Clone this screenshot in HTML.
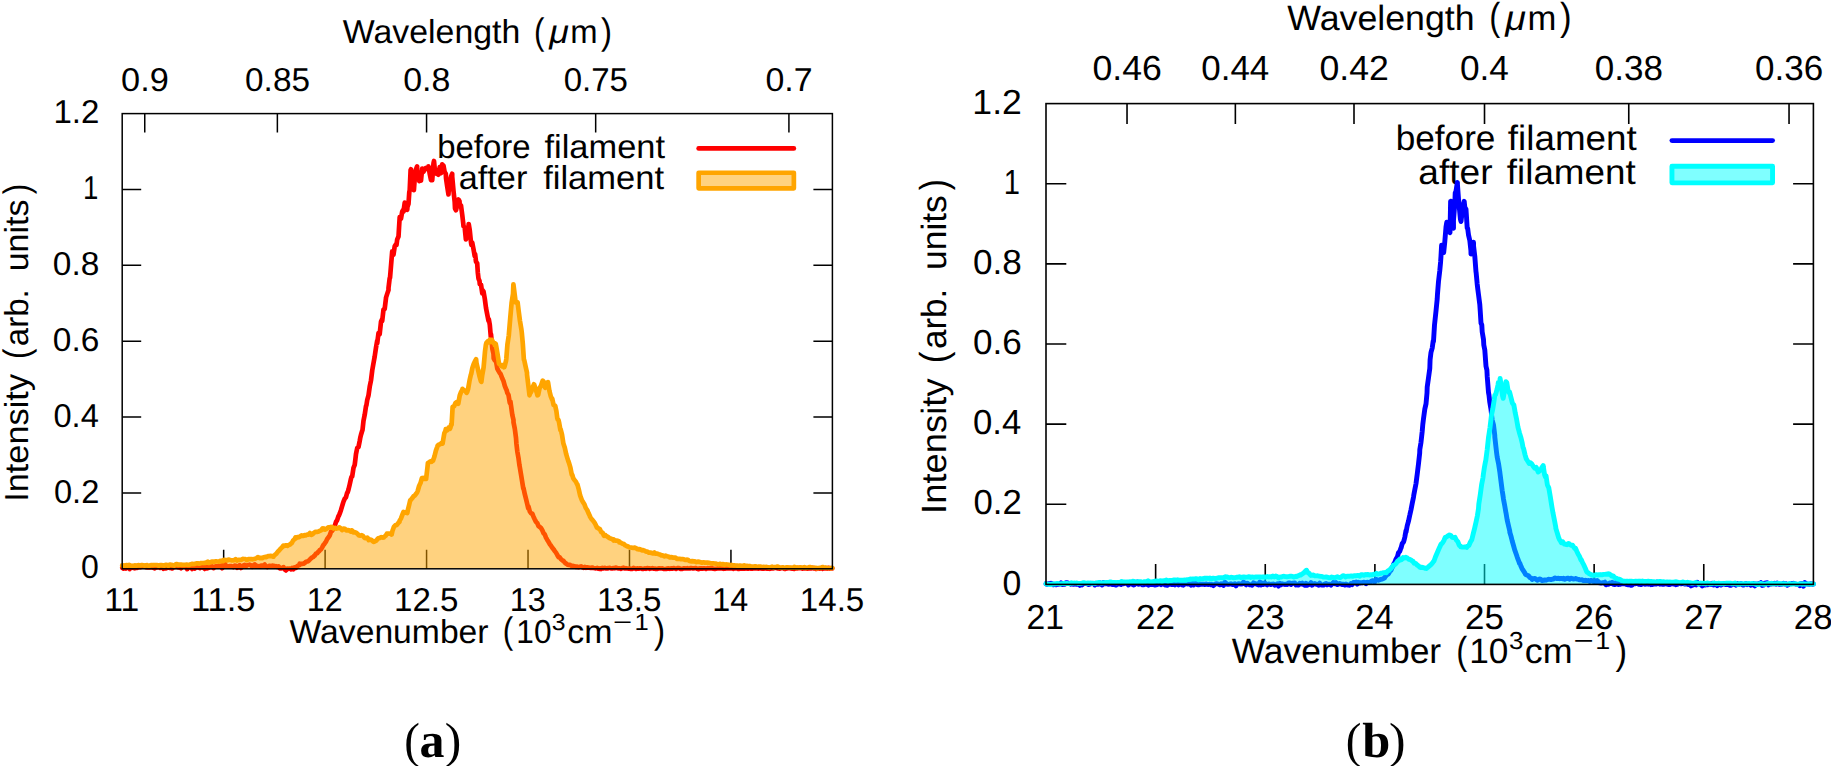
<!DOCTYPE html>
<html lang="en">
<head>
<meta charset="utf-8">
<title>Spectra before and after filament</title>
<style>
html,body{margin:0;padding:0;background:#fff;}
body{width:1831px;height:766px;overflow:hidden;}
svg{display:block;font-family:'Liberation Sans', sans-serif;fill:#000;}
</style>
</head>
<body>
<svg width="1831" height="766" viewBox="0 0 1831 766">
<rect width="1831" height="766" fill="#fff"/>
<g id="labels" text-rendering="geometricPrecision">
<text><tspan x="342.80" y="42.90" font-size="33.20" textLength="177.50" lengthAdjust="spacingAndGlyphs">Wavelength</tspan> <tspan x="534.03" y="43.60" font-size="36.85" textLength="10.42" lengthAdjust="spacingAndGlyphs">(</tspan><tspan x="549.32" y="42.90" font-size="33.20" font-style="italic" textLength="19.62" lengthAdjust="spacingAndGlyphs">μ</tspan><tspan x="570.15" y="42.90" font-size="33.20" textLength="27.35" lengthAdjust="spacingAndGlyphs">m</tspan><tspan x="600.90" y="43.60" font-size="36.85" textLength="11.01" lengthAdjust="spacingAndGlyphs">)</tspan></text>
<text x="121.07" y="91.30" font-size="33.00" textLength="47.66" lengthAdjust="spacingAndGlyphs">0.9</text>
<text x="245.08" y="91.30" font-size="33.00" textLength="64.89" lengthAdjust="spacingAndGlyphs">0.85</text>
<text x="403.16" y="91.30" font-size="33.00" textLength="47.13" lengthAdjust="spacingAndGlyphs">0.8</text>
<text x="563.68" y="91.30" font-size="33.00" textLength="64.27" lengthAdjust="spacingAndGlyphs">0.75</text>
<text x="765.51" y="91.30" font-size="33.00" textLength="47.13" lengthAdjust="spacingAndGlyphs">0.7</text>
<text x="53.44" y="123.20" font-size="33.00" textLength="45.90" lengthAdjust="spacingAndGlyphs">1.2</text>
<text x="82.98" y="199.07" font-size="33.00" textLength="15.34" lengthAdjust="spacingAndGlyphs">1</text>
<text x="52.85" y="274.93" font-size="33.00" textLength="46.50" lengthAdjust="spacingAndGlyphs">0.8</text>
<text x="52.85" y="350.80" font-size="33.00" textLength="46.50" lengthAdjust="spacingAndGlyphs">0.6</text>
<text x="53.48" y="426.67" font-size="33.00" textLength="45.33" lengthAdjust="spacingAndGlyphs">0.4</text>
<text x="53.98" y="502.53" font-size="33.00" textLength="45.34" lengthAdjust="spacingAndGlyphs">0.2</text>
<text x="81.00" y="578.40" font-size="33.00" textLength="17.80" lengthAdjust="spacingAndGlyphs">0</text>
<text x="104.34" y="610.60" font-size="33.00" textLength="34.97" lengthAdjust="spacingAndGlyphs">11</text>
<text x="191.00" y="610.60" font-size="33.00" textLength="64.55" lengthAdjust="spacingAndGlyphs">11.5</text>
<text x="306.85" y="610.60" font-size="33.00" textLength="35.82" lengthAdjust="spacingAndGlyphs">12</text>
<text x="394.00" y="610.60" font-size="33.00" textLength="64.41" lengthAdjust="spacingAndGlyphs">12.5</text>
<text x="509.77" y="610.60" font-size="33.00" textLength="35.82" lengthAdjust="spacingAndGlyphs">13</text>
<text x="596.92" y="610.60" font-size="33.00" textLength="64.41" lengthAdjust="spacingAndGlyphs">13.5</text>
<text x="712.37" y="610.60" font-size="33.00" textLength="35.92" lengthAdjust="spacingAndGlyphs">14</text>
<text x="799.83" y="610.60" font-size="33.00" textLength="64.41" lengthAdjust="spacingAndGlyphs">14.5</text>
<text><tspan x="289.60" y="642.70" font-size="33.20" textLength="198.96" lengthAdjust="spacingAndGlyphs">Wavenumber</tspan> <tspan x="502.73" y="643.40" font-size="36.85" textLength="10.42" lengthAdjust="spacingAndGlyphs">(</tspan><tspan x="516.32" y="642.70" font-size="33.20" textLength="35.16" lengthAdjust="spacingAndGlyphs">10</tspan><tspan x="551.83" y="629.80" font-size="23.24" textLength="13.78" lengthAdjust="spacingAndGlyphs">3</tspan><tspan x="567.34" y="642.70" font-size="33.20" textLength="45.11" lengthAdjust="spacingAndGlyphs">cm</tspan><tspan x="613.06" y="629.80" font-size="23.24" textLength="19.15" lengthAdjust="spacingAndGlyphs">−</tspan><tspan x="634.40" y="629.80" font-size="23.24" textLength="14.24" lengthAdjust="spacingAndGlyphs">1</tspan><tspan x="654.00" y="643.40" font-size="36.85" textLength="11.13" lengthAdjust="spacingAndGlyphs">)</tspan></text>
<text transform="translate(27.80,0) rotate(-90)"><tspan x="-501.88" y="0.00" font-size="33.20" textLength="127.98" lengthAdjust="spacingAndGlyphs">Intensity</tspan> <tspan x="-359.07" y="0.70" font-size="36.85" textLength="10.42" lengthAdjust="spacingAndGlyphs">(</tspan><tspan x="-346.13" y="0.00" font-size="33.20" textLength="56.92" lengthAdjust="spacingAndGlyphs">arb.</tspan> <tspan x="-271.32" y="0.00" font-size="33.20" textLength="71.79" lengthAdjust="spacingAndGlyphs">units</tspan><tspan x="-194.20" y="0.70" font-size="36.85" textLength="10.42" lengthAdjust="spacingAndGlyphs">)</tspan></text>
<text><tspan x="437.14" y="157.60" font-size="33.20" textLength="93.39" lengthAdjust="spacingAndGlyphs">before</tspan> <tspan x="544.50" y="157.60" font-size="33.20" textLength="120.48" lengthAdjust="spacingAndGlyphs">filament</tspan></text>
<text><tspan x="458.73" y="189.30" font-size="33.20" textLength="68.64" lengthAdjust="spacingAndGlyphs">after</tspan> <tspan x="543.20" y="189.30" font-size="33.20" textLength="120.88" lengthAdjust="spacingAndGlyphs">filament</tspan></text>
<text><tspan x="404.33" y="757.30" font-size="49.50" font-family='"Liberation Serif", serif' textLength="15.63" lengthAdjust="spacingAndGlyphs">(</tspan><tspan x="419.64" y="757.30" font-size="49.50" font-family='"Liberation Serif", serif' font-weight="bold" textLength="24.96" lengthAdjust="spacingAndGlyphs">a</tspan><tspan x="444.65" y="757.30" font-size="49.50" font-family='"Liberation Serif", serif' textLength="16.55" lengthAdjust="spacingAndGlyphs">)</tspan></text>
<text><tspan x="1287.30" y="29.60" font-size="35.10" textLength="187.31" lengthAdjust="spacingAndGlyphs">Wavelength</tspan> <tspan x="1489.25" y="30.30" font-size="38.96" textLength="11.01" lengthAdjust="spacingAndGlyphs">(</tspan><tspan x="1505.38" y="29.60" font-size="35.10" font-style="italic" textLength="20.66" lengthAdjust="spacingAndGlyphs">μ</tspan><tspan x="1527.43" y="29.60" font-size="35.10" textLength="28.86" lengthAdjust="spacingAndGlyphs">m</tspan><tspan x="1559.90" y="30.30" font-size="38.96" textLength="11.60" lengthAdjust="spacingAndGlyphs">)</tspan></text>
<text x="1092.52" y="80.40" font-size="34.90" textLength="69.36" lengthAdjust="spacingAndGlyphs">0.46</text>
<text x="1201.22" y="80.40" font-size="34.90" textLength="68.06" lengthAdjust="spacingAndGlyphs">0.44</text>
<text x="1319.49" y="80.40" font-size="34.90" textLength="69.36" lengthAdjust="spacingAndGlyphs">0.42</text>
<text x="1459.91" y="80.40" font-size="34.90" textLength="48.98" lengthAdjust="spacingAndGlyphs">0.4</text>
<text x="1594.82" y="80.40" font-size="34.90" textLength="68.22" lengthAdjust="spacingAndGlyphs">0.38</text>
<text x="1755.09" y="80.40" font-size="34.90" textLength="68.22" lengthAdjust="spacingAndGlyphs">0.36</text>
<text x="972.38" y="113.80" font-size="34.90" textLength="49.47" lengthAdjust="spacingAndGlyphs">1.2</text>
<text x="1003.78" y="193.93" font-size="34.90" textLength="16.20" lengthAdjust="spacingAndGlyphs">1</text>
<text x="973.00" y="274.07" font-size="34.90" textLength="48.82" lengthAdjust="spacingAndGlyphs">0.8</text>
<text x="973.00" y="354.20" font-size="34.90" textLength="48.82" lengthAdjust="spacingAndGlyphs">0.6</text>
<text x="973.02" y="434.33" font-size="34.90" textLength="48.25" lengthAdjust="spacingAndGlyphs">0.4</text>
<text x="973.51" y="514.47" font-size="34.90" textLength="48.29" lengthAdjust="spacingAndGlyphs">0.2</text>
<text x="1002.44" y="594.60" font-size="34.90" textLength="18.80" lengthAdjust="spacingAndGlyphs">0</text>
<text x="1026.57" y="629.20" font-size="34.90" textLength="37.44" lengthAdjust="spacingAndGlyphs">21</text>
<text x="1136.09" y="629.20" font-size="34.90" textLength="38.85" lengthAdjust="spacingAndGlyphs">22</text>
<text x="1245.72" y="629.20" font-size="34.90" textLength="38.85" lengthAdjust="spacingAndGlyphs">23</text>
<text x="1355.37" y="629.20" font-size="34.90" textLength="38.27" lengthAdjust="spacingAndGlyphs">24</text>
<text x="1464.98" y="629.20" font-size="34.90" textLength="38.85" lengthAdjust="spacingAndGlyphs">25</text>
<text x="1574.61" y="629.20" font-size="34.90" textLength="38.85" lengthAdjust="spacingAndGlyphs">26</text>
<text x="1684.23" y="629.20" font-size="34.90" textLength="38.85" lengthAdjust="spacingAndGlyphs">27</text>
<text x="1793.86" y="629.20" font-size="34.90" textLength="38.85" lengthAdjust="spacingAndGlyphs">28</text>
<text><tspan x="1231.70" y="663.00" font-size="35.10" textLength="209.47" lengthAdjust="spacingAndGlyphs">Wavenumber</tspan> <tspan x="1456.15" y="663.70" font-size="38.96" textLength="11.01" lengthAdjust="spacingAndGlyphs">(</tspan><tspan x="1469.20" y="663.00" font-size="35.10" textLength="39.18" lengthAdjust="spacingAndGlyphs">10</tspan><tspan x="1508.99" y="649.40" font-size="24.57" textLength="14.47" lengthAdjust="spacingAndGlyphs">3</tspan><tspan x="1524.88" y="663.00" font-size="35.10" textLength="47.77" lengthAdjust="spacingAndGlyphs">cm</tspan><tspan x="1573.58" y="649.40" font-size="24.57" textLength="20.21" lengthAdjust="spacingAndGlyphs">−</tspan><tspan x="1595.32" y="649.40" font-size="24.57" textLength="14.97" lengthAdjust="spacingAndGlyphs">1</tspan><tspan x="1615.60" y="663.70" font-size="38.96" textLength="11.60" lengthAdjust="spacingAndGlyphs">)</tspan></text>
<text transform="translate(945.90,0) rotate(-90)"><tspan x="-513.94" y="0.00" font-size="35.10" textLength="135.54" lengthAdjust="spacingAndGlyphs">Intensity</tspan> <tspan x="-363.23" y="0.70" font-size="38.96" textLength="11.60" lengthAdjust="spacingAndGlyphs">(</tspan><tspan x="-348.99" y="0.00" font-size="35.10" textLength="60.14" lengthAdjust="spacingAndGlyphs">arb.</tspan> <tspan x="-270.01" y="0.00" font-size="35.10" textLength="74.82" lengthAdjust="spacingAndGlyphs">units</tspan><tspan x="-190.20" y="0.70" font-size="38.96" textLength="11.01" lengthAdjust="spacingAndGlyphs">)</tspan></text>
<text><tspan x="1395.70" y="150.00" font-size="35.10" textLength="99.72" lengthAdjust="spacingAndGlyphs">before</tspan> <tspan x="1507.80" y="150.00" font-size="35.10" textLength="128.97" lengthAdjust="spacingAndGlyphs">filament</tspan></text>
<text><tspan x="1418.34" y="184.40" font-size="35.10" textLength="74.24" lengthAdjust="spacingAndGlyphs">after</tspan> <tspan x="1506.80" y="184.40" font-size="35.10" textLength="128.87" lengthAdjust="spacingAndGlyphs">filament</tspan></text>
<text><tspan x="1345.63" y="757.30" font-size="49.50" font-family='"Liberation Serif", serif' textLength="15.63" lengthAdjust="spacingAndGlyphs">(</tspan><tspan x="1362.20" y="757.30" font-size="49.50" font-family='"Liberation Serif", serif' font-weight="bold" textLength="28.04" lengthAdjust="spacingAndGlyphs">b</tspan><tspan x="1388.95" y="757.30" font-size="49.50" font-family='"Liberation Serif", serif' textLength="16.55" lengthAdjust="spacingAndGlyphs">)</tspan></text>
</g>
<g id="plot-a">
<path d="M223.66,568.80v-19.00M325.11,568.80v-19.00M426.57,568.80v-19.00M528.03,568.80v-19.00M629.49,568.80v-19.00M730.94,568.80v-19.00M144.75,113.60v19.00M277.37,113.60v19.00M426.57,113.60v19.00M595.67,113.60v19.00M788.92,113.60v19.00M122.20,492.93h19.00M832.40,492.93h-19.00M122.20,417.07h19.00M832.40,417.07h-19.00M122.20,341.20h19.00M832.40,341.20h-19.00M122.20,265.33h19.00M832.40,265.33h-19.00M122.20,189.47h19.00M832.40,189.47h-19.00" stroke="#000" stroke-width="1.5" fill="none"/>
<path d="M122.2,567.7 122.2,567.6 123.5,568.6 124.7,566.8 126.0,568.4 127.2,567.3 128.5,567.2 129.7,569.0 131.0,567.5 132.2,567.3 133.5,568.0 134.7,568.3 136.0,567.3 137.2,567.8 138.5,566.4 139.7,566.9 140.0,567.2 141.0,566.9 142.2,566.1 143.5,566.0 144.7,566.0 146.0,567.2 147.2,567.3 148.5,567.2 149.7,567.5 151.0,566.4 152.2,567.5 153.5,567.8 154.7,568.3 156.0,567.0 157.2,567.4 158.5,566.0 159.7,567.4 160.0,567.8 161.0,565.9 162.2,566.5 163.5,568.7 164.7,565.8 166.0,568.4 167.2,567.9 168.5,567.4 169.7,568.0 171.0,568.0 172.2,568.4 173.5,567.3 174.7,567.0 176.0,567.0 177.2,566.6 178.5,567.4 179.7,566.7 180.0,567.4 181.0,568.3 182.2,565.8 183.5,566.5 184.7,566.6 186.0,565.7 187.2,569.1 188.5,565.4 189.7,567.3 191.0,567.1 192.2,568.9 193.5,565.8 194.7,568.5 196.0,566.9 197.2,567.4 198.5,567.0 199.7,568.1 200.0,567.6 201.0,566.6 202.2,567.4 203.5,567.7 204.7,568.9 206.0,565.2 207.2,568.4 208.5,567.8 209.7,566.5 211.0,567.1 212.2,566.4 213.5,568.1 214.7,566.8 215.0,566.6 216.0,566.4 217.2,566.4 218.5,566.3 219.7,566.3 221.0,565.7 222.2,568.2 223.5,564.8 224.7,563.3 226.0,566.2 227.2,566.2 228.5,566.6 229.7,566.1 231.0,566.1 232.2,566.5 233.5,567.0 234.7,565.7 236.0,565.8 237.2,567.7 238.5,566.5 239.7,565.2 240.0,566.0 241.0,568.0 242.2,566.6 243.5,565.4 244.7,564.9 246.0,566.2 247.2,565.2 248.5,565.0 249.7,564.7 251.0,565.4 252.2,566.7 253.5,565.4 254.7,564.5 256.0,566.3 257.2,565.8 258.5,566.4 259.7,566.7 261.0,565.5 262.2,565.5 263.5,565.6 264.7,564.6 265.0,565.6 266.0,566.3 267.2,567.0 268.5,566.1 269.7,565.9 271.0,566.0 272.2,565.7 273.5,565.8 274.7,566.2 275.0,566.6 276.0,566.2 277.2,566.9 278.5,566.3 279.7,568.3 281.0,568.4 282.2,567.8 283.5,567.2 284.7,569.5 285.0,569.6 286.0,570.4 287.2,568.7 288.5,568.8 289.7,568.5 291.0,569.4 292.2,567.9 293.0,568.6 293.5,569.2 294.7,567.4 296.0,567.8 297.2,566.3 298.5,565.4 299.6,565.0 299.7,563.7 301.0,563.9 302.2,563.8 303.5,563.7 304.5,563.0 304.7,563.0 306.0,561.8 307.2,561.5 308.5,561.0 309.4,560.0 309.7,559.7 311.0,558.4 312.2,557.4 313.5,556.8 314.0,556.0 314.7,555.6 316.0,553.7 317.2,553.2 318.5,551.6 319.2,551.2 319.7,550.1 321.0,549.4 322.2,547.4 323.5,544.8 324.0,544.5 324.7,543.4 326.0,541.6 327.2,538.9 328.5,537.3 329.0,536.5 329.7,535.6 331.0,531.7 332.2,530.8 333.5,528.7 334.7,526.3 334.8,525.8 336.0,521.9 337.2,520.1 338.5,516.1 338.8,516.0 339.7,513.7 341.0,509.9 342.2,505.8 342.7,504.2 343.5,501.6 344.7,498.8 346.0,497.2 347.2,492.5 347.6,492.5 348.5,489.5 349.7,484.5 351.0,478.6 351.5,476.8 352.2,476.3 353.5,467.9 354.7,464.9 355.4,459.2 356.0,454.0 357.2,448.1 358.5,447.0 359.7,441.0 360.3,437.6 361.0,434.8 362.2,430.8 362.5,430.0 363.5,420.8 364.7,414.8 366.0,406.2 366.4,405.3 367.2,400.2 368.5,395.3 369.7,386.8 371.0,380.4 371.3,377.9 372.2,370.6 373.5,363.2 374.7,356.5 376.0,347.7 377.2,340.7 377.2,343.4 378.5,333.0 379.7,334.1 381.0,321.7 382.1,319.2 382.2,321.1 383.5,309.6 384.7,308.9 386.0,298.0 386.0,297.6 387.2,293.9 388.5,290.1 388.5,288.0 389.7,278.0 390.0,278.0 391.0,265.9 392.2,251.4 392.8,252.3 393.5,254.7 394.7,246.3 396.0,244.2 396.5,245.0 397.2,239.4 398.5,236.6 399.2,224.9 399.7,217.1 401.0,218.7 402.2,211.6 402.9,210.3 403.5,211.6 404.7,202.7 406.0,206.5 407.2,209.7 407.5,206.6 408.5,204.0 409.3,192.0 409.7,190.4 410.6,170.1 411.0,169.3 412.2,180.3 413.5,187.3 413.9,190.2 414.7,179.0 416.0,169.3 417.1,166.4 417.2,170.2 418.5,176.6 419.3,181.1 419.7,179.3 421.0,180.6 422.2,168.6 423.0,170.1 423.5,171.7 424.7,169.0 426.0,167.9 427.2,169.1 428.5,167.1 428.5,166.4 429.7,173.7 431.0,180.0 431.2,180.1 432.2,180.2 433.5,163.3 434.0,161.0 434.7,168.4 436.0,172.7 436.7,173.8 437.2,171.9 438.5,174.7 439.7,167.1 441.0,173.2 442.2,164.3 443.1,166.4 443.5,165.6 444.7,172.1 445.8,173.8 446.0,178.1 447.2,186.5 448.5,194.5 448.6,192.0 449.7,185.5 451.0,176.4 452.2,173.8 452.2,176.4 453.5,190.9 454.7,202.1 455.0,208.5 456.0,210.2 457.2,205.5 458.5,199.5 459.5,201.2 459.7,204.2 461.0,205.6 462.2,214.5 463.2,223.1 463.5,226.2 464.7,227.5 465.9,239.5 466.0,239.1 467.2,227.7 468.5,227.5 468.7,224.0 469.7,229.8 471.0,242.5 471.4,245.0 472.2,242.5 473.5,249.1 474.7,256.1 475.1,254.1 476.0,261.6 477.2,263.3 477.8,272.4 478.5,278.6 479.5,281.0 479.8,284.3 481.0,284.6 482.3,293.4 482.4,290.0 483.5,291.4 484.8,298.8 484.9,299.6 486.0,308.0 487.3,314.7 488.5,320.9 488.8,319.2 489.8,324.9 490.8,336.8 491.0,334.2 492.3,348.4 493.5,353.8 493.7,358.3 494.8,360.4 496.0,360.9 497.3,368.6 498.5,370.9 499.8,373.2 500.6,374.0 501.0,375.1 502.3,378.5 503.5,381.1 504.8,385.8 506.0,388.9 506.5,389.7 507.3,392.8 508.5,394.9 509.8,402.9 510.4,401.4 511.0,405.5 512.3,414.9 513.5,420.0 513.5,422.2 514.8,428.8 516.0,437.9 516.4,443.5 517.3,451.3 518.5,458.1 519.4,465.0 519.8,467.2 521.0,474.4 522.3,482.4 523.3,488.5 523.5,488.1 524.8,494.2 526.0,498.9 527.3,504.3 528.2,508.1 528.5,506.6 529.8,511.5 531.0,513.2 532.3,513.7 533.5,516.7 534.8,519.5 535.0,519.9 536.0,521.9 537.3,523.2 538.5,526.1 539.8,527.0 541.0,528.1 542.3,530.2 542.9,531.6 543.5,533.2 544.8,534.5 546.0,537.6 547.3,539.9 548.5,541.8 549.8,544.2 550.7,545.3 551.0,545.7 552.3,547.7 553.5,549.2 554.8,551.1 556.0,552.6 557.3,555.0 558.5,557.1 558.5,556.6 559.8,557.5 561.0,559.2 562.3,560.3 563.5,560.9 564.8,562.6 566.0,563.5 567.3,564.5 568.3,564.9 568.5,564.8 569.8,564.8 571.0,565.6 572.3,565.8 573.5,566.2 574.8,566.3 576.0,566.9 577.3,566.6 578.1,566.9 578.5,567.1 579.8,566.8 581.0,566.4 582.3,567.1 583.5,567.8 584.8,566.9 586.0,567.8 587.3,567.4 588.5,567.6 589.8,567.8 590.0,567.8 591.0,567.9 592.3,567.6 593.5,568.0 594.8,568.2 596.0,568.4 597.3,567.9 598.5,568.7 599.8,568.9 600.0,568.3 601.0,569.0 602.3,567.9 603.5,568.4 604.8,567.8 606.0,568.4 607.3,568.5 608.5,568.0 609.8,567.9 611.0,568.4 612.3,568.5 613.5,568.1 614.8,568.3 616.0,567.6 617.3,568.2 618.5,568.4 619.8,568.4 621.0,568.9 622.3,568.0 623.5,567.7 624.8,568.5 626.0,568.2 627.3,568.5 628.5,568.6 629.8,568.6 631.0,568.9 632.3,568.8 633.5,567.9 634.8,568.4 636.0,569.0 637.3,568.3 638.5,568.7 639.8,568.4 641.0,568.3 642.3,568.9 643.5,568.8 644.8,568.4 646.0,568.8 647.3,568.1 648.5,568.3 649.8,568.8 650.0,568.5 651.0,568.5 652.3,568.2 653.5,568.6 654.8,568.6 656.0,568.9 657.3,568.8 658.5,568.4 659.8,568.4 661.0,568.5 662.3,568.4 663.5,568.9 664.8,569.0 666.0,568.9 667.3,568.6 668.5,568.4 669.8,568.8 671.0,568.4 672.3,568.6 673.5,568.0 674.8,568.4 676.0,568.9 677.3,568.2 678.5,568.1 679.8,568.5 681.0,569.0 682.3,568.9 683.5,568.4 684.8,568.4 686.0,568.5 687.3,568.2 688.5,568.5 689.8,568.4 691.0,568.1 692.3,568.3 693.5,568.4 694.8,568.2 696.0,568.2 697.3,568.8 698.5,569.1 699.8,568.4 700.0,568.5 701.0,568.4 702.3,568.7 703.5,568.4 704.8,568.3 706.0,568.9 707.3,568.2 708.5,568.3 709.8,568.3 711.0,568.2 712.3,568.4 713.5,568.7 714.8,568.9 716.0,568.7 717.3,568.5 718.5,568.1 719.8,568.5 721.0,568.2 722.3,568.5 723.5,568.8 724.8,568.6 726.0,568.4 727.3,568.3 728.5,568.5 729.8,568.5 731.0,568.2 732.3,568.3 733.5,568.8 734.8,568.0 736.0,568.4 737.3,568.1 738.5,569.0 739.8,568.7 741.0,568.7 742.3,568.6 743.5,568.6 744.8,568.6 746.0,568.0 747.3,568.6 748.5,568.7 749.8,568.1 751.0,568.7 752.3,568.7 753.5,568.0 754.8,568.4 756.0,568.4 757.3,568.3 758.5,568.6 759.8,568.1 760.0,568.5 761.0,568.4 762.3,568.6 763.5,568.7 764.8,568.5 766.0,568.4 767.3,568.7 768.5,567.9 769.8,568.8 771.0,568.4 772.3,568.1 773.5,568.4 774.8,567.9 776.0,567.9 777.3,568.4 778.5,568.2 779.8,568.7 781.0,568.2 782.3,568.1 783.5,568.2 784.8,569.0 786.0,568.5 787.3,568.3 788.5,568.2 789.8,568.1 791.0,568.4 792.3,568.6 793.5,568.8 794.8,568.8 796.0,568.5 797.3,568.3 798.5,568.2 799.8,567.8 801.0,568.1 802.3,568.6 803.5,568.3 804.8,568.5 806.0,568.0 807.3,568.7 808.5,568.5 809.8,568.4 811.0,568.5 812.3,567.8 813.5,568.3 814.8,568.2 816.0,569.0 817.3,568.4 818.5,568.3 819.8,568.7 821.0,568.1 822.3,568.8 823.5,568.2 824.8,568.4 826.0,568.1 827.3,568.6 828.5,567.8 829.8,568.6 831.0,568.2 832.3,568.4 832.3,568.4" fill="none" stroke="#ff0000" stroke-width="4.7" stroke-linejoin="round" stroke-linecap="round"/>
<path d="M122.2,565.4 122.2,565.8 123.6,565.4 125.0,566.0 126.4,565.0 127.8,565.6 129.2,564.9 130.6,566.0 132.0,565.7 133.4,566.0 134.8,565.4 136.2,565.7 137.6,565.4 139.0,565.2 140.4,565.5 141.8,565.0 143.2,565.3 144.6,565.6 146.0,565.4 147.4,565.2 148.8,566.0 150.2,565.3 151.6,565.0 152.9,565.2 153.0,565.2 154.4,565.0 155.8,565.0 157.2,565.0 158.6,565.8 160.0,565.1 161.4,565.1 162.8,565.3 164.2,565.7 165.6,564.9 167.0,564.8 168.4,565.8 169.8,564.5 171.2,564.8 172.6,565.1 174.0,565.6 175.4,564.5 176.8,564.0 178.2,565.0 179.6,564.6 181.0,564.6 182.4,564.9 183.8,564.8 185.2,564.8 185.8,564.7 186.6,564.5 188.0,564.9 189.4,564.8 190.8,564.2 192.2,563.9 193.6,564.2 195.0,563.9 196.4,563.3 197.8,563.3 199.2,563.7 200.6,563.2 202.0,563.0 203.4,563.0 204.8,562.8 206.2,562.6 207.6,561.8 207.7,562.5 209.0,562.9 210.4,562.2 211.8,561.6 213.2,562.0 214.6,561.6 216.0,561.3 217.4,561.5 218.8,561.7 220.2,560.9 221.6,561.1 223.0,560.3 223.0,561.1 224.4,559.9 225.8,560.0 227.2,560.4 228.6,559.5 230.0,559.9 231.4,560.4 232.8,560.3 234.2,560.1 235.6,559.1 237.0,560.6 238.4,559.9 239.8,559.9 241.3,559.8 242.7,558.9 244.1,559.0 245.5,559.0 246.9,560.1 248.3,559.0 249.7,559.2 251.1,559.1 251.6,559.2 252.5,559.3 253.9,559.0 255.3,558.7 256.7,558.0 258.1,557.1 259.5,558.1 260.9,557.9 262.3,558.1 263.7,557.3 265.1,556.9 266.5,557.1 267.9,556.2 269.3,556.1 270.7,555.9 272.1,556.2 273.5,556.7 273.5,555.9 274.9,554.9 276.3,553.7 277.7,551.9 278.0,551.5 279.1,550.5 280.5,548.8 281.9,547.4 282.3,547.1 283.3,545.7 284.7,545.8 286.1,545.3 287.5,545.8 287.8,545.3 288.9,545.0 290.3,544.4 291.0,543.5 291.7,543.3 293.1,540.5 294.5,539.3 295.5,537.4 295.9,538.3 297.3,537.0 298.7,537.3 300.1,536.4 301.5,535.4 302.9,536.0 303.5,535.8 304.3,535.2 305.7,535.3 307.1,534.6 308.5,534.6 309.9,533.0 311.3,534.8 312.7,534.1 313.3,533.2 314.1,532.7 315.5,531.8 316.9,531.8 318.3,531.6 319.7,530.9 321.1,530.3 322.5,528.5 323.1,529.3 323.9,528.5 325.3,529.6 326.7,528.7 328.1,527.4 329.5,527.5 330.9,526.9 330.9,527.7 332.3,527.2 333.7,528.5 335.1,527.8 336.5,528.6 337.9,528.2 338.8,528.1 339.3,527.4 340.7,528.2 342.1,530.1 343.5,528.7 344.9,528.9 346.3,530.5 347.7,530.1 349.1,530.4 350.5,531.5 350.5,530.7 351.9,530.4 353.3,532.3 354.7,532.2 356.1,532.7 357.5,533.8 358.9,535.5 360.3,535.6 360.3,535.5 361.7,535.2 363.1,536.1 364.5,537.9 365.9,538.2 367.3,537.6 368.1,538.5 368.7,540.1 370.1,539.5 371.5,540.0 372.9,541.3 373.6,541.8 374.3,541.7 375.7,541.0 377.1,539.6 377.9,538.5 378.5,538.2 379.9,537.9 381.3,537.2 382.7,537.6 383.8,537.5 384.1,536.9 385.5,535.9 386.9,533.7 387.7,533.6 388.3,533.5 389.7,533.6 391.1,533.8 391.6,534.6 392.5,530.8 393.6,527.7 393.9,526.8 395.3,525.3 396.7,524.9 398.1,523.2 399.5,521.8 399.5,520.9 400.9,518.6 402.3,514.9 403.4,512.0 403.7,513.1 405.1,512.3 406.5,512.7 407.3,513.0 407.9,509.8 409.3,504.2 410.2,500.3 410.7,500.1 412.1,498.3 413.5,496.3 414.9,495.4 416.3,493.5 417.1,492.5 417.7,491.0 419.1,486.0 420.5,483.1 421.9,478.1 422.0,478.8 423.3,478.0 424.7,478.9 425.9,478.8 426.1,478.9 427.5,467.0 427.9,463.1 428.9,462.5 430.3,461.4 431.7,461.8 432.8,460.1 433.1,460.5 434.5,456.2 435.9,450.6 437.3,446.8 437.7,445.5 438.7,444.7 440.1,444.2 441.5,443.0 442.6,443.5 442.9,441.7 444.3,433.3 445.5,430.8 445.7,429.2 447.1,430.3 448.5,427.8 449.9,428.8 450.4,427.8 451.3,423.9 451.6,424.9 452.6,407.3 452.7,406.7 454.1,406.3 455.5,402.9 456.9,402.0 457.5,402.4 458.3,403.7 459.7,395.6 461.1,391.9 462.4,389.7 462.5,388.9 463.9,390.3 465.3,390.8 466.7,392.8 467.3,391.6 468.1,389.0 469.5,380.8 470.9,374.6 471.2,374.0 472.3,368.3 473.7,363.9 475.1,360.9 476.1,359.3 476.5,363.0 478.0,369.5 478.1,370.1 479.4,375.8 480.8,381.0 481.4,381.8 482.2,375.3 483.6,367.5 485.0,351.5 485.9,344.6 486.4,342.8 487.8,341.2 488.4,341.0 489.2,342.4 489.8,339.7 490.6,340.0 492.0,339.9 493.4,343.0 494.6,343.1 494.8,345.2 495.7,343.7 496.2,346.2 497.6,354.4 498.7,361.6 499.0,363.7 500.4,364.9 501.8,366.3 503.2,364.9 504.2,367.2 504.6,366.3 506.0,360.9 506.3,359.0 507.4,344.6 508.8,335.3 510.2,318.5 511.6,302.9 513.0,293.8 513.4,284.3 514.4,292.3 515.7,302.5 515.8,301.0 517.2,302.3 517.6,302.4 518.6,310.5 520.0,321.1 521.4,329.5 521.8,332.7 522.8,343.7 523.9,359.8 524.2,359.9 525.6,366.4 527.0,372.7 527.0,374.5 528.4,385.9 529.5,395.3 529.8,394.0 531.2,391.8 532.6,387.4 534.0,384.3 534.3,384.9 535.4,388.2 536.8,392.7 537.4,395.3 538.2,394.9 539.6,388.0 541.0,385.8 542.4,381.5 542.7,380.7 543.8,381.9 544.8,387.0 545.2,387.8 546.6,386.1 547.9,384.9 548.0,382.0 549.4,390.9 550.8,396.3 552.1,399.5 552.2,398.5 553.6,404.9 555.0,405.6 555.2,405.8 556.4,411.3 557.3,418.3 557.8,419.7 558.5,420.0 559.2,423.1 560.4,430.0 560.6,429.2 562.0,434.6 563.4,443.7 563.4,443.5 564.8,447.7 566.2,454.2 567.6,458.9 568.3,461.1 569.0,462.9 570.4,467.7 571.8,474.7 572.3,474.8 573.2,478.1 574.6,480.1 576.0,481.9 577.2,484.6 577.4,484.4 578.8,489.5 580.2,495.7 581.6,499.3 582.0,500.3 583.0,502.1 584.4,504.2 585.8,508.0 587.2,510.0 588.6,513.4 589.9,516.0 590.0,516.6 591.4,518.9 592.8,520.4 594.2,522.2 595.6,524.7 597.0,527.7 597.7,527.7 598.4,528.6 599.8,529.0 601.2,532.1 602.6,532.7 604.0,535.9 605.4,535.2 605.6,535.6 606.8,536.3 608.2,537.1 609.6,538.3 611.0,538.6 612.4,539.1 613.4,540.4 613.8,539.5 615.2,540.6 616.6,540.7 618.0,540.9 619.3,541.4 619.4,542.5 620.8,542.7 622.2,543.7 623.6,543.9 625.0,545.1 626.4,545.8 627.1,546.3 627.8,546.4 629.2,547.2 630.6,547.5 632.0,547.7 633.4,548.0 634.8,547.6 636.2,548.3 637.6,549.2 638.8,549.3 639.0,549.2 640.4,549.4 641.8,550.3 643.2,550.1 644.6,550.6 646.0,551.6 647.4,551.5 648.8,552.6 650.2,552.6 651.0,552.6 651.6,553.1 653.0,553.5 654.4,552.5 655.8,553.7 657.2,553.5 658.6,554.2 660.0,554.6 661.4,555.5 662.8,555.3 664.2,556.3 665.6,555.7 667.0,556.2 668.4,556.6 669.8,557.3 671.2,557.2 672.6,557.3 672.9,557.6 674.0,557.7 675.4,557.5 676.8,558.8 678.2,558.8 679.6,558.9 681.0,559.1 682.4,559.0 683.8,559.3 685.2,560.0 686.6,559.7 688.0,559.9 689.4,561.0 690.8,561.3 692.2,561.1 693.6,561.4 694.8,561.4 695.0,561.5 696.4,562.1 697.8,561.6 699.2,561.9 700.6,562.2 702.0,562.7 703.4,562.3 704.8,562.6 706.2,562.5 707.6,562.6 709.0,562.8 710.4,563.2 711.8,563.6 713.2,563.3 714.7,563.5 716.1,563.7 716.8,563.9 717.5,564.1 718.9,564.3 720.3,563.8 721.7,564.5 723.1,564.1 724.5,564.8 725.9,564.4 727.3,564.5 728.7,564.8 730.1,565.1 731.0,565.2 731.5,564.9 732.9,565.4 734.3,565.4 735.7,565.5 737.1,565.6 738.5,565.9 739.9,565.5 741.3,565.8 742.7,565.9 744.1,565.3 745.5,566.2 746.9,565.9 748.3,566.0 749.6,566.3 749.7,566.2 751.1,566.4 752.5,566.5 753.9,566.6 755.3,566.3 756.7,566.8 758.1,566.7 759.5,566.5 760.9,566.7 762.3,567.0 763.7,566.9 765.1,567.0 766.5,566.9 767.9,567.3 769.3,567.7 770.7,567.1 772.1,566.6 773.5,567.6 774.9,567.0 776.3,566.8 777.7,566.5 779.1,567.4 780.5,567.7 781.9,567.7 782.5,567.4 783.3,567.3 784.7,567.9 786.1,567.4 787.5,567.3 788.9,567.5 790.3,567.6 791.7,567.5 793.1,567.7 794.5,566.9 795.9,568.0 797.3,567.4 798.7,567.8 800.1,567.4 801.5,567.7 802.9,567.6 804.3,567.2 805.7,567.8 807.1,567.9 808.5,567.4 809.9,567.1 811.3,567.5 812.7,567.5 814.1,567.8 815.5,567.8 816.9,568.3 818.3,568.0 819.7,567.8 821.1,567.9 822.5,567.0 823.9,567.6 825.3,567.6 826.7,567.9 828.1,568.0 829.5,568.0 830.9,568.3 832.3,567.8 832.3,568.0 L832.3,568.8 L122.2,568.8 Z" fill="#ffa500" fill-opacity="0.5" stroke="none"/>
<path d="M122.2,565.4 122.2,565.8 123.6,565.4 125.0,566.0 126.4,565.0 127.8,565.6 129.2,564.9 130.6,566.0 132.0,565.7 133.4,566.0 134.8,565.4 136.2,565.7 137.6,565.4 139.0,565.2 140.4,565.5 141.8,565.0 143.2,565.3 144.6,565.6 146.0,565.4 147.4,565.2 148.8,566.0 150.2,565.3 151.6,565.0 152.9,565.2 153.0,565.2 154.4,565.0 155.8,565.0 157.2,565.0 158.6,565.8 160.0,565.1 161.4,565.1 162.8,565.3 164.2,565.7 165.6,564.9 167.0,564.8 168.4,565.8 169.8,564.5 171.2,564.8 172.6,565.1 174.0,565.6 175.4,564.5 176.8,564.0 178.2,565.0 179.6,564.6 181.0,564.6 182.4,564.9 183.8,564.8 185.2,564.8 185.8,564.7 186.6,564.5 188.0,564.9 189.4,564.8 190.8,564.2 192.2,563.9 193.6,564.2 195.0,563.9 196.4,563.3 197.8,563.3 199.2,563.7 200.6,563.2 202.0,563.0 203.4,563.0 204.8,562.8 206.2,562.6 207.6,561.8 207.7,562.5 209.0,562.9 210.4,562.2 211.8,561.6 213.2,562.0 214.6,561.6 216.0,561.3 217.4,561.5 218.8,561.7 220.2,560.9 221.6,561.1 223.0,560.3 223.0,561.1 224.4,559.9 225.8,560.0 227.2,560.4 228.6,559.5 230.0,559.9 231.4,560.4 232.8,560.3 234.2,560.1 235.6,559.1 237.0,560.6 238.4,559.9 239.8,559.9 241.3,559.8 242.7,558.9 244.1,559.0 245.5,559.0 246.9,560.1 248.3,559.0 249.7,559.2 251.1,559.1 251.6,559.2 252.5,559.3 253.9,559.0 255.3,558.7 256.7,558.0 258.1,557.1 259.5,558.1 260.9,557.9 262.3,558.1 263.7,557.3 265.1,556.9 266.5,557.1 267.9,556.2 269.3,556.1 270.7,555.9 272.1,556.2 273.5,556.7 273.5,555.9 274.9,554.9 276.3,553.7 277.7,551.9 278.0,551.5 279.1,550.5 280.5,548.8 281.9,547.4 282.3,547.1 283.3,545.7 284.7,545.8 286.1,545.3 287.5,545.8 287.8,545.3 288.9,545.0 290.3,544.4 291.0,543.5 291.7,543.3 293.1,540.5 294.5,539.3 295.5,537.4 295.9,538.3 297.3,537.0 298.7,537.3 300.1,536.4 301.5,535.4 302.9,536.0 303.5,535.8 304.3,535.2 305.7,535.3 307.1,534.6 308.5,534.6 309.9,533.0 311.3,534.8 312.7,534.1 313.3,533.2 314.1,532.7 315.5,531.8 316.9,531.8 318.3,531.6 319.7,530.9 321.1,530.3 322.5,528.5 323.1,529.3 323.9,528.5 325.3,529.6 326.7,528.7 328.1,527.4 329.5,527.5 330.9,526.9 330.9,527.7 332.3,527.2 333.7,528.5 335.1,527.8 336.5,528.6 337.9,528.2 338.8,528.1 339.3,527.4 340.7,528.2 342.1,530.1 343.5,528.7 344.9,528.9 346.3,530.5 347.7,530.1 349.1,530.4 350.5,531.5 350.5,530.7 351.9,530.4 353.3,532.3 354.7,532.2 356.1,532.7 357.5,533.8 358.9,535.5 360.3,535.6 360.3,535.5 361.7,535.2 363.1,536.1 364.5,537.9 365.9,538.2 367.3,537.6 368.1,538.5 368.7,540.1 370.1,539.5 371.5,540.0 372.9,541.3 373.6,541.8 374.3,541.7 375.7,541.0 377.1,539.6 377.9,538.5 378.5,538.2 379.9,537.9 381.3,537.2 382.7,537.6 383.8,537.5 384.1,536.9 385.5,535.9 386.9,533.7 387.7,533.6 388.3,533.5 389.7,533.6 391.1,533.8 391.6,534.6 392.5,530.8 393.6,527.7 393.9,526.8 395.3,525.3 396.7,524.9 398.1,523.2 399.5,521.8 399.5,520.9 400.9,518.6 402.3,514.9 403.4,512.0 403.7,513.1 405.1,512.3 406.5,512.7 407.3,513.0 407.9,509.8 409.3,504.2 410.2,500.3 410.7,500.1 412.1,498.3 413.5,496.3 414.9,495.4 416.3,493.5 417.1,492.5 417.7,491.0 419.1,486.0 420.5,483.1 421.9,478.1 422.0,478.8 423.3,478.0 424.7,478.9 425.9,478.8 426.1,478.9 427.5,467.0 427.9,463.1 428.9,462.5 430.3,461.4 431.7,461.8 432.8,460.1 433.1,460.5 434.5,456.2 435.9,450.6 437.3,446.8 437.7,445.5 438.7,444.7 440.1,444.2 441.5,443.0 442.6,443.5 442.9,441.7 444.3,433.3 445.5,430.8 445.7,429.2 447.1,430.3 448.5,427.8 449.9,428.8 450.4,427.8 451.3,423.9 451.6,424.9 452.6,407.3 452.7,406.7 454.1,406.3 455.5,402.9 456.9,402.0 457.5,402.4 458.3,403.7 459.7,395.6 461.1,391.9 462.4,389.7 462.5,388.9 463.9,390.3 465.3,390.8 466.7,392.8 467.3,391.6 468.1,389.0 469.5,380.8 470.9,374.6 471.2,374.0 472.3,368.3 473.7,363.9 475.1,360.9 476.1,359.3 476.5,363.0 478.0,369.5 478.1,370.1 479.4,375.8 480.8,381.0 481.4,381.8 482.2,375.3 483.6,367.5 485.0,351.5 485.9,344.6 486.4,342.8 487.8,341.2 488.4,341.0 489.2,342.4 489.8,339.7 490.6,340.0 492.0,339.9 493.4,343.0 494.6,343.1 494.8,345.2 495.7,343.7 496.2,346.2 497.6,354.4 498.7,361.6 499.0,363.7 500.4,364.9 501.8,366.3 503.2,364.9 504.2,367.2 504.6,366.3 506.0,360.9 506.3,359.0 507.4,344.6 508.8,335.3 510.2,318.5 511.6,302.9 513.0,293.8 513.4,284.3 514.4,292.3 515.7,302.5 515.8,301.0 517.2,302.3 517.6,302.4 518.6,310.5 520.0,321.1 521.4,329.5 521.8,332.7 522.8,343.7 523.9,359.8 524.2,359.9 525.6,366.4 527.0,372.7 527.0,374.5 528.4,385.9 529.5,395.3 529.8,394.0 531.2,391.8 532.6,387.4 534.0,384.3 534.3,384.9 535.4,388.2 536.8,392.7 537.4,395.3 538.2,394.9 539.6,388.0 541.0,385.8 542.4,381.5 542.7,380.7 543.8,381.9 544.8,387.0 545.2,387.8 546.6,386.1 547.9,384.9 548.0,382.0 549.4,390.9 550.8,396.3 552.1,399.5 552.2,398.5 553.6,404.9 555.0,405.6 555.2,405.8 556.4,411.3 557.3,418.3 557.8,419.7 558.5,420.0 559.2,423.1 560.4,430.0 560.6,429.2 562.0,434.6 563.4,443.7 563.4,443.5 564.8,447.7 566.2,454.2 567.6,458.9 568.3,461.1 569.0,462.9 570.4,467.7 571.8,474.7 572.3,474.8 573.2,478.1 574.6,480.1 576.0,481.9 577.2,484.6 577.4,484.4 578.8,489.5 580.2,495.7 581.6,499.3 582.0,500.3 583.0,502.1 584.4,504.2 585.8,508.0 587.2,510.0 588.6,513.4 589.9,516.0 590.0,516.6 591.4,518.9 592.8,520.4 594.2,522.2 595.6,524.7 597.0,527.7 597.7,527.7 598.4,528.6 599.8,529.0 601.2,532.1 602.6,532.7 604.0,535.9 605.4,535.2 605.6,535.6 606.8,536.3 608.2,537.1 609.6,538.3 611.0,538.6 612.4,539.1 613.4,540.4 613.8,539.5 615.2,540.6 616.6,540.7 618.0,540.9 619.3,541.4 619.4,542.5 620.8,542.7 622.2,543.7 623.6,543.9 625.0,545.1 626.4,545.8 627.1,546.3 627.8,546.4 629.2,547.2 630.6,547.5 632.0,547.7 633.4,548.0 634.8,547.6 636.2,548.3 637.6,549.2 638.8,549.3 639.0,549.2 640.4,549.4 641.8,550.3 643.2,550.1 644.6,550.6 646.0,551.6 647.4,551.5 648.8,552.6 650.2,552.6 651.0,552.6 651.6,553.1 653.0,553.5 654.4,552.5 655.8,553.7 657.2,553.5 658.6,554.2 660.0,554.6 661.4,555.5 662.8,555.3 664.2,556.3 665.6,555.7 667.0,556.2 668.4,556.6 669.8,557.3 671.2,557.2 672.6,557.3 672.9,557.6 674.0,557.7 675.4,557.5 676.8,558.8 678.2,558.8 679.6,558.9 681.0,559.1 682.4,559.0 683.8,559.3 685.2,560.0 686.6,559.7 688.0,559.9 689.4,561.0 690.8,561.3 692.2,561.1 693.6,561.4 694.8,561.4 695.0,561.5 696.4,562.1 697.8,561.6 699.2,561.9 700.6,562.2 702.0,562.7 703.4,562.3 704.8,562.6 706.2,562.5 707.6,562.6 709.0,562.8 710.4,563.2 711.8,563.6 713.2,563.3 714.7,563.5 716.1,563.7 716.8,563.9 717.5,564.1 718.9,564.3 720.3,563.8 721.7,564.5 723.1,564.1 724.5,564.8 725.9,564.4 727.3,564.5 728.7,564.8 730.1,565.1 731.0,565.2 731.5,564.9 732.9,565.4 734.3,565.4 735.7,565.5 737.1,565.6 738.5,565.9 739.9,565.5 741.3,565.8 742.7,565.9 744.1,565.3 745.5,566.2 746.9,565.9 748.3,566.0 749.6,566.3 749.7,566.2 751.1,566.4 752.5,566.5 753.9,566.6 755.3,566.3 756.7,566.8 758.1,566.7 759.5,566.5 760.9,566.7 762.3,567.0 763.7,566.9 765.1,567.0 766.5,566.9 767.9,567.3 769.3,567.7 770.7,567.1 772.1,566.6 773.5,567.6 774.9,567.0 776.3,566.8 777.7,566.5 779.1,567.4 780.5,567.7 781.9,567.7 782.5,567.4 783.3,567.3 784.7,567.9 786.1,567.4 787.5,567.3 788.9,567.5 790.3,567.6 791.7,567.5 793.1,567.7 794.5,566.9 795.9,568.0 797.3,567.4 798.7,567.8 800.1,567.4 801.5,567.7 802.9,567.6 804.3,567.2 805.7,567.8 807.1,567.9 808.5,567.4 809.9,567.1 811.3,567.5 812.7,567.5 814.1,567.8 815.5,567.8 816.9,568.3 818.3,568.0 819.7,567.8 821.1,567.9 822.5,567.0 823.9,567.6 825.3,567.6 826.7,567.9 828.1,568.0 829.5,568.0 830.9,568.3 832.3,567.8 832.3,568.0" fill="none" stroke="#ffa500" stroke-width="4.7" stroke-linejoin="round" stroke-linecap="round"/>
<path d="M698.65,148.40H793.85" stroke="#ff0000" stroke-width="4.7" stroke-linecap="round"/>
<rect x="698.65" y="172.75" width="95.20" height="15.60" fill="#ffa500" fill-opacity="0.5" stroke="none"/>
<rect x="698.65" y="172.75" width="95.20" height="15.60" fill="none" stroke="#ffa500" stroke-width="4.7" stroke-linejoin="round"/>
<rect x="122.20" y="113.60" width="710.20" height="455.20" fill="none" stroke="#000" stroke-width="1.5"/>
</g>
<g id="plot-b">
<path d="M1155.63,584.40v-20.30M1265.26,584.40v-20.30M1374.89,584.40v-20.30M1484.51,584.40v-20.30M1594.14,584.40v-20.30M1703.77,584.40v-20.30M1127.03,103.60v20.30M1235.36,103.60v20.30M1354.00,103.60v20.30M1484.51,103.60v20.30M1628.76,103.60v20.30M1789.04,103.60v20.30M1046.00,504.27h20.30M1813.40,504.27h-20.30M1046.00,424.13h20.30M1813.40,424.13h-20.30M1046.00,344.00h20.30M1813.40,344.00h-20.30M1046.00,263.87h20.30M1813.40,263.87h-20.30M1046.00,183.73h20.30M1813.40,183.73h-20.30" stroke="#000" stroke-width="1.6" fill="none"/>
<path d="M1046.0,583.8 1046.0,584.0 1047.2,584.4 1048.5,583.8 1049.8,583.8 1051.0,583.3 1052.2,583.8 1053.5,584.8 1054.8,584.3 1056.0,584.8 1057.2,584.2 1058.5,584.3 1059.8,584.1 1061.0,582.8 1062.2,584.6 1063.5,584.4 1064.8,584.4 1066.0,582.7 1067.2,582.7 1068.5,583.3 1069.8,583.6 1071.0,584.2 1072.2,584.0 1073.5,584.4 1074.8,583.5 1076.0,584.2 1077.2,584.3 1078.5,583.5 1079.8,585.3 1081.0,584.4 1082.2,584.9 1083.5,583.5 1084.8,583.4 1086.0,583.7 1087.2,583.9 1088.5,584.5 1089.8,584.2 1091.0,583.7 1092.2,583.3 1093.5,583.6 1094.8,584.9 1096.0,583.4 1097.2,584.2 1098.5,584.3 1099.8,582.9 1100.0,584.0 1101.0,584.0 1102.2,585.0 1103.5,582.5 1104.8,583.8 1106.0,583.9 1107.2,583.4 1108.5,584.4 1109.8,584.0 1111.0,582.9 1112.2,584.6 1113.5,584.5 1114.8,584.7 1116.0,585.1 1117.2,584.3 1118.5,584.1 1119.8,583.0 1121.0,584.5 1122.2,583.6 1123.5,583.7 1124.8,583.1 1126.0,583.3 1127.2,583.6 1128.5,585.0 1129.8,582.5 1131.0,582.9 1132.2,584.2 1133.5,585.1 1134.8,584.5 1136.0,582.6 1137.2,582.1 1138.5,584.3 1139.8,583.5 1141.0,583.2 1142.2,584.8 1143.5,584.9 1144.8,584.2 1146.0,584.2 1147.2,584.4 1148.5,585.2 1149.8,584.5 1151.0,584.4 1152.2,584.5 1153.5,582.9 1154.8,585.0 1156.0,584.8 1157.2,584.5 1158.5,582.6 1159.8,583.6 1161.0,584.7 1162.2,582.7 1163.5,583.9 1164.8,584.8 1166.0,583.1 1167.2,585.3 1168.5,584.5 1169.8,584.0 1171.0,584.3 1172.2,584.6 1173.5,584.2 1174.8,584.9 1176.0,583.6 1177.2,583.8 1178.5,584.9 1179.8,584.1 1181.0,583.4 1182.2,584.8 1183.5,585.2 1184.8,583.8 1186.0,583.1 1187.2,584.0 1188.5,584.0 1189.8,583.9 1191.0,585.1 1192.2,583.3 1193.5,585.0 1194.8,583.1 1196.0,583.5 1197.2,584.6 1198.5,584.9 1199.8,584.7 1200.0,584.1 1201.0,584.4 1202.2,584.2 1203.5,584.2 1204.8,584.5 1206.0,584.0 1207.2,584.3 1208.5,584.5 1209.8,584.1 1211.0,584.7 1212.2,584.5 1213.5,585.6 1214.8,584.3 1216.0,583.8 1217.2,583.8 1218.5,584.1 1219.8,584.8 1221.0,583.8 1222.2,584.4 1223.5,585.5 1224.8,582.2 1226.0,583.2 1227.2,584.3 1228.5,584.4 1229.8,584.2 1231.0,583.7 1232.2,584.6 1233.5,584.3 1234.8,583.7 1236.0,585.9 1237.2,584.3 1238.5,583.6 1239.8,584.0 1241.0,583.9 1242.2,584.0 1243.5,582.0 1244.8,583.7 1246.0,584.8 1247.2,583.2 1248.5,584.0 1249.8,584.8 1251.0,584.7 1252.2,585.2 1253.5,582.8 1254.8,583.8 1256.0,583.8 1257.2,584.5 1258.5,584.9 1259.8,582.0 1261.0,584.9 1262.2,583.0 1263.5,584.5 1264.8,582.9 1266.0,584.2 1267.2,584.9 1268.5,583.9 1269.8,584.2 1271.0,584.6 1272.2,584.1 1273.5,584.0 1274.8,585.2 1276.0,584.8 1277.2,583.8 1278.5,586.1 1279.8,583.2 1281.0,584.7 1282.2,583.8 1283.5,584.1 1284.8,584.5 1286.0,584.2 1287.2,584.5 1288.5,582.9 1289.8,582.9 1291.0,584.5 1292.2,583.3 1293.5,583.2 1294.8,582.9 1296.0,585.0 1297.2,584.6 1298.5,585.1 1299.8,583.3 1300.0,584.0 1301.0,584.0 1302.2,583.1 1303.5,584.6 1304.8,585.2 1306.0,583.3 1307.2,585.2 1308.5,584.7 1309.8,583.9 1311.0,582.5 1312.2,585.1 1313.5,583.9 1314.8,583.5 1316.0,584.3 1317.2,584.3 1318.5,585.1 1319.8,583.2 1321.0,584.9 1322.2,585.1 1323.5,585.1 1324.8,583.9 1326.0,583.4 1327.2,584.8 1328.5,584.1 1329.8,584.1 1331.0,585.1 1332.2,583.8 1333.5,582.3 1334.8,583.7 1336.0,582.6 1337.2,584.6 1338.5,584.2 1339.8,583.5 1341.0,584.0 1342.2,584.6 1343.5,584.1 1344.8,585.0 1346.0,584.0 1347.2,584.8 1348.5,585.1 1349.8,585.2 1351.0,583.5 1351.6,584.0 1352.2,584.6 1353.5,582.4 1354.8,582.8 1356.0,582.0 1357.2,584.1 1358.5,582.3 1359.8,583.0 1361.0,582.7 1362.2,582.7 1363.5,582.1 1364.8,582.6 1366.0,583.6 1367.2,582.2 1368.5,582.4 1369.8,582.6 1371.0,581.5 1372.2,580.6 1373.5,581.0 1373.5,581.4 1374.8,581.8 1376.0,579.4 1377.2,579.8 1378.5,580.3 1379.8,579.8 1381.0,579.2 1382.2,579.1 1383.5,578.5 1384.5,578.1 1384.8,577.3 1386.0,575.7 1387.2,574.6 1388.5,573.8 1389.8,571.6 1391.0,570.0 1391.0,570.4 1392.2,567.4 1393.3,565.5 1393.5,564.3 1394.8,562.3 1396.0,559.0 1397.2,557.2 1397.6,556.2 1398.5,552.7 1399.8,551.3 1401.0,547.7 1401.1,547.9 1402.2,543.6 1403.5,542.0 1404.2,539.7 1404.8,537.2 1406.0,530.5 1406.0,532.2 1407.2,525.9 1408.5,521.2 1409.8,514.9 1409.9,514.6 1411.0,509.8 1412.2,503.5 1413.5,497.2 1413.8,495.0 1414.8,489.8 1416.0,483.6 1416.8,477.4 1417.2,474.4 1418.5,463.7 1419.7,453.0 1419.8,449.7 1421.0,442.3 1422.2,431.5 1422.8,424.4 1423.5,418.7 1424.8,409.1 1426.0,403.9 1427.0,393.1 1427.2,387.2 1428.5,377.8 1429.8,368.3 1430.1,359.7 1431.0,352.3 1432.2,348.1 1433.2,340.9 1433.5,341.4 1434.5,325.0 1434.8,322.2 1436.0,311.0 1437.2,299.1 1437.4,295.3 1438.5,281.5 1439.8,270.5 1440.6,261.9 1441.0,256.0 1441.6,245.2 1442.2,249.8 1443.5,251.7 1443.7,252.5 1444.8,241.7 1446.0,227.0 1446.8,222.2 1447.2,222.6 1448.5,230.5 1449.8,232.2 1450.0,232.7 1450.6,201.3 1451.0,201.2 1452.2,209.4 1453.5,228.3 1453.5,220.1 1454.8,203.9 1455.2,193.0 1456.0,191.1 1457.2,183.5 1457.3,182.5 1458.5,198.7 1459.8,212.9 1460.4,219.1 1461.0,221.5 1462.2,211.8 1463.5,204.4 1464.2,201.3 1464.8,207.2 1466.0,209.2 1467.2,228.1 1467.7,228.5 1468.5,234.9 1469.8,240.5 1470.9,250.4 1471.0,254.0 1472.2,253.5 1473.5,242.3 1473.6,246.2 1474.8,256.3 1476.0,272.0 1476.1,272.3 1477.2,284.1 1477.8,289.1 1478.5,294.5 1479.8,304.6 1480.3,312.0 1481.0,323.0 1481.8,325.0 1482.2,331.9 1483.5,339.5 1483.8,345.1 1484.8,350.0 1486.0,366.3 1486.9,370.1 1487.2,376.2 1488.5,392.5 1489.0,395.2 1489.8,402.4 1491.0,409.2 1491.7,416.0 1492.2,420.1 1493.5,424.8 1494.8,435.5 1494.8,436.9 1496.0,447.5 1496.5,452.0 1497.2,457.3 1498.5,463.4 1499.8,471.8 1500.0,473.5 1501.0,481.4 1502.2,490.6 1502.9,495.0 1503.5,499.2 1504.8,506.1 1505.9,512.7 1506.0,512.9 1507.2,520.1 1508.5,525.7 1509.8,531.3 1509.8,532.2 1511.0,536.1 1512.2,541.0 1513.5,545.5 1514.7,549.9 1514.8,550.1 1516.0,553.5 1517.2,557.1 1518.5,560.5 1519.6,563.6 1519.8,563.2 1521.0,566.3 1522.2,568.9 1523.5,570.9 1524.8,572.9 1525.5,574.3 1526.0,574.8 1527.2,575.2 1528.5,575.7 1529.8,577.4 1531.0,577.9 1532.2,579.5 1532.3,579.2 1533.5,578.9 1534.8,578.4 1536.0,579.2 1537.2,580.3 1538.5,579.7 1539.8,578.9 1541.0,579.5 1542.1,580.2 1542.2,580.6 1543.5,580.4 1544.8,579.9 1546.0,580.2 1547.2,579.8 1548.5,579.3 1549.8,579.4 1551.0,579.6 1552.2,579.2 1553.5,579.0 1554.8,578.0 1555.8,578.3 1556.0,578.2 1557.2,578.6 1558.5,578.2 1559.8,578.7 1561.0,578.5 1562.2,578.7 1563.5,578.2 1564.8,579.3 1566.0,578.8 1567.2,578.2 1568.5,578.3 1569.8,579.3 1571.0,578.2 1571.5,578.3 1572.2,578.7 1573.5,579.0 1574.8,578.8 1576.0,578.5 1577.2,579.2 1578.5,579.4 1579.8,579.9 1581.0,579.9 1582.2,579.8 1583.5,580.6 1584.8,580.5 1585.2,580.2 1586.0,580.5 1587.2,580.6 1588.5,580.5 1589.8,581.4 1591.0,580.3 1592.2,580.8 1593.5,581.5 1594.8,580.6 1596.0,581.5 1597.2,580.5 1598.5,581.7 1599.8,582.9 1601.0,583.0 1602.2,582.8 1603.5,582.8 1604.8,582.1 1604.8,583.2 1606.0,584.7 1607.2,583.8 1608.5,584.3 1609.8,582.9 1611.0,583.5 1612.2,582.4 1613.5,584.4 1614.8,584.6 1616.0,582.6 1617.2,584.0 1618.5,584.6 1619.8,582.9 1620.4,584.3 1621.0,582.9 1622.2,583.5 1623.5,583.8 1624.8,583.2 1626.0,584.3 1627.2,584.5 1628.5,584.8 1629.8,584.8 1631.0,585.4 1632.2,585.1 1633.5,583.3 1634.8,583.9 1636.0,583.5 1637.2,583.5 1638.5,584.2 1639.8,584.3 1641.0,584.6 1642.2,583.1 1643.5,583.3 1644.8,584.2 1646.0,584.1 1647.2,584.0 1648.5,584.2 1649.8,583.7 1651.0,584.7 1652.2,584.5 1653.5,584.2 1654.8,583.7 1656.0,584.1 1657.2,582.2 1658.5,583.5 1659.8,584.2 1661.0,583.1 1662.2,584.3 1663.5,584.3 1664.8,583.2 1666.0,584.0 1667.2,583.9 1668.5,584.5 1669.8,584.6 1671.0,584.1 1672.2,583.5 1673.5,584.1 1674.8,584.1 1676.0,584.7 1677.2,584.4 1678.5,583.6 1679.8,583.1 1681.0,583.9 1682.2,583.6 1683.5,583.3 1684.8,584.1 1686.0,583.8 1687.2,584.2 1688.5,584.5 1689.8,583.8 1691.0,585.9 1692.2,583.9 1693.5,584.9 1694.8,584.2 1696.0,584.9 1697.2,582.3 1698.5,583.5 1699.8,584.3 1700.0,584.1 1701.0,584.6 1702.2,585.9 1703.5,584.3 1704.8,585.1 1706.0,584.7 1707.2,584.8 1708.5,584.5 1709.8,584.0 1711.0,584.5 1712.2,583.3 1713.5,585.0 1714.8,583.3 1716.0,584.3 1717.2,585.7 1718.5,583.9 1719.8,584.1 1721.0,585.0 1722.2,584.1 1723.5,583.5 1724.8,584.3 1726.0,584.5 1727.2,584.6 1728.5,583.5 1729.8,585.4 1731.0,585.3 1732.2,584.1 1733.5,584.3 1734.8,583.7 1736.0,585.1 1737.2,583.5 1738.5,584.6 1739.8,583.7 1741.0,583.5 1742.2,584.6 1743.5,585.1 1744.8,584.1 1746.0,583.6 1747.2,584.7 1748.5,584.0 1749.8,584.3 1751.0,585.2 1752.2,584.9 1753.5,583.7 1754.8,585.8 1756.0,584.1 1757.2,584.6 1758.5,583.6 1759.8,584.0 1761.0,582.7 1762.2,585.4 1763.5,585.1 1764.8,583.1 1766.0,582.9 1767.2,582.8 1768.5,584.9 1769.8,583.7 1771.0,584.0 1772.2,583.8 1773.5,583.9 1774.8,583.2 1776.0,584.1 1777.2,583.0 1778.5,584.0 1779.8,584.3 1781.0,584.4 1782.2,583.9 1783.5,583.3 1784.8,584.1 1786.0,583.7 1787.2,585.2 1788.5,584.6 1789.8,583.9 1791.0,583.7 1792.2,583.5 1793.5,583.3 1794.8,583.8 1796.0,584.2 1797.2,584.4 1798.5,584.4 1799.8,585.6 1801.0,583.5 1802.2,584.0 1803.5,586.1 1804.8,582.6 1806.0,583.6 1807.2,584.1 1808.5,584.1 1809.8,584.3 1811.0,583.8 1812.2,584.3 1813.5,584.0 1813.5,584.0" fill="none" stroke="#0000ff" stroke-width="4.9" stroke-linejoin="round" stroke-linecap="round"/>
<path d="M1046.0,583.8 1046.0,584.1 1047.4,584.1 1048.8,584.4 1050.2,584.5 1051.6,584.3 1053.0,583.9 1054.4,584.0 1055.8,583.8 1057.2,583.4 1058.6,583.6 1060.0,584.0 1061.4,583.8 1062.8,583.6 1064.2,583.3 1065.6,583.6 1067.0,583.4 1068.4,583.6 1069.8,583.7 1071.2,582.8 1072.6,583.4 1074.0,583.0 1075.4,583.1 1076.8,583.0 1078.2,583.6 1079.6,583.5 1081.0,583.4 1082.4,583.0 1083.8,582.7 1085.2,583.0 1086.6,583.2 1088.0,583.0 1089.4,583.2 1090.8,582.9 1092.2,583.5 1093.6,583.1 1095.0,583.5 1096.4,582.9 1097.8,582.7 1099.2,582.5 1100.6,583.0 1102.0,583.0 1103.4,582.7 1104.8,582.8 1106.2,582.5 1107.6,582.4 1109.0,582.4 1110.4,581.9 1111.8,582.2 1113.2,582.4 1114.6,582.4 1116.0,582.7 1117.4,582.5 1118.8,582.4 1120.2,582.3 1121.6,581.5 1123.0,582.2 1124.4,581.9 1125.8,582.3 1127.2,582.0 1128.6,581.9 1130.0,581.8 1131.4,581.9 1132.8,581.3 1134.2,581.4 1135.6,582.3 1137.0,582.0 1138.4,581.7 1139.8,581.7 1141.2,581.6 1142.6,582.7 1144.0,581.8 1145.4,581.6 1146.8,581.4 1148.2,580.8 1149.6,581.6 1151.0,581.9 1152.4,581.8 1153.8,581.5 1155.0,581.4 1155.2,581.2 1156.6,580.9 1158.0,581.2 1159.4,581.0 1160.8,580.7 1162.2,581.5 1163.6,580.6 1165.0,580.6 1166.4,580.0 1167.8,581.2 1169.2,580.5 1170.6,580.5 1172.0,580.5 1173.4,580.0 1174.9,580.0 1176.3,580.2 1177.7,579.8 1179.1,580.1 1180.5,580.3 1181.9,580.1 1183.3,580.2 1184.7,580.0 1186.1,580.2 1187.5,579.6 1188.9,579.6 1190.3,579.0 1191.7,579.2 1193.1,578.9 1194.5,579.1 1195.9,578.7 1197.3,579.0 1198.7,579.7 1200.1,578.5 1201.5,578.9 1202.9,578.8 1204.3,578.3 1205.7,578.3 1207.1,578.2 1208.5,578.4 1209.9,578.0 1211.3,579.0 1212.7,578.3 1214.1,578.3 1215.5,578.6 1216.9,578.2 1218.3,577.7 1219.7,577.7 1220.0,577.6 1221.1,577.6 1222.5,577.7 1223.9,577.9 1225.3,576.8 1226.7,576.9 1228.1,577.4 1229.5,577.6 1230.9,577.3 1232.3,577.4 1233.7,577.8 1235.1,577.6 1236.5,577.3 1237.9,577.2 1239.3,576.8 1240.7,577.5 1242.1,577.3 1243.5,576.9 1244.9,577.4 1246.3,577.1 1247.7,577.1 1249.1,576.6 1250.5,577.5 1251.9,576.9 1253.3,577.2 1254.7,577.2 1256.1,576.9 1257.5,577.0 1258.9,577.0 1260.3,576.9 1261.7,577.1 1263.1,576.8 1263.9,577.0 1264.5,577.2 1265.9,577.0 1267.3,576.5 1268.7,577.0 1270.1,576.7 1271.5,577.0 1272.9,576.0 1274.3,576.9 1275.7,576.0 1277.1,576.6 1278.5,577.9 1279.9,577.0 1281.3,577.1 1282.7,576.4 1284.1,576.3 1285.5,576.6 1286.9,576.8 1288.3,576.6 1289.7,576.3 1291.1,576.2 1292.5,576.4 1293.9,577.1 1295.3,576.5 1296.7,576.3 1296.8,576.5 1298.1,575.9 1299.5,575.2 1300.9,574.5 1301.0,575.0 1302.3,573.9 1303.7,573.0 1305.1,571.5 1306.1,570.4 1306.5,570.2 1307.9,572.7 1309.3,573.5 1310.7,575.4 1311.0,575.0 1312.1,575.2 1313.5,575.0 1314.9,575.9 1315.4,575.9 1316.3,575.9 1317.7,575.8 1319.1,576.1 1320.5,576.4 1321.9,576.4 1323.3,577.1 1324.7,577.1 1326.1,577.0 1327.5,577.2 1328.9,577.8 1329.6,577.6 1330.3,577.7 1331.7,577.0 1333.1,577.4 1334.5,577.8 1335.9,577.2 1337.3,576.7 1338.7,577.4 1340.1,577.6 1341.5,576.7 1342.9,575.7 1344.3,575.9 1345.7,577.0 1347.1,576.1 1348.5,576.3 1349.9,576.2 1351.3,575.9 1352.7,576.4 1354.1,575.7 1355.5,575.8 1356.9,575.6 1357.1,575.4 1358.3,575.4 1359.7,576.2 1361.1,574.8 1362.5,574.7 1363.9,575.4 1365.3,574.5 1366.7,574.9 1368.1,574.4 1369.5,575.0 1370.9,574.6 1372.3,574.8 1373.7,574.2 1375.1,574.3 1375.7,574.3 1376.5,573.3 1377.9,574.2 1379.3,573.8 1380.7,573.3 1382.1,573.1 1383.5,572.7 1384.9,572.5 1385.5,572.4 1386.3,572.7 1387.7,571.0 1389.0,570.5 1389.1,570.2 1390.5,569.0 1391.9,567.2 1393.3,565.5 1393.3,565.2 1394.7,564.8 1396.1,563.5 1397.5,561.2 1398.9,560.8 1399.2,559.7 1400.3,558.7 1401.7,559.6 1403.1,557.6 1404.5,558.0 1405.9,557.3 1406.0,557.3 1407.3,558.0 1408.7,559.3 1410.1,559.5 1411.5,560.4 1412.9,561.6 1412.9,561.1 1414.3,563.4 1415.7,563.5 1417.1,565.0 1418.5,565.8 1419.9,567.4 1420.7,567.5 1421.3,567.2 1422.7,567.5 1424.1,567.8 1425.5,568.4 1426.6,568.5 1426.9,567.9 1428.3,566.9 1429.8,565.6 1431.2,564.4 1432.6,562.7 1433.4,561.6 1434.0,561.0 1435.4,557.0 1436.8,553.7 1438.2,550.5 1439.6,547.3 1440.3,545.9 1441.0,544.2 1442.4,543.1 1443.8,540.8 1445.2,537.4 1446.2,537.1 1446.6,536.9 1448.0,535.8 1449.4,535.0 1450.1,535.2 1450.8,535.5 1452.2,537.4 1453.6,537.6 1455.0,537.3 1455.9,539.1 1456.4,540.1 1457.8,541.6 1459.2,545.2 1460.6,546.3 1460.8,546.9 1462.0,547.0 1463.4,547.1 1464.8,546.9 1466.2,547.2 1466.7,547.5 1467.6,546.1 1469.0,545.3 1470.4,542.1 1471.6,540.1 1471.8,539.8 1473.2,533.9 1474.6,528.3 1475.5,524.4 1476.0,522.2 1477.4,515.7 1478.5,508.7 1478.8,504.2 1480.2,495.2 1481.0,489.2 1481.6,484.8 1483.0,477.6 1483.4,474.0 1484.4,467.4 1485.4,462.0 1485.8,460.2 1487.2,449.5 1488.6,436.5 1488.6,436.9 1490.0,427.6 1491.4,415.8 1491.7,414.0 1492.8,408.8 1494.2,399.8 1494.8,395.2 1495.6,394.6 1497.0,389.4 1498.0,384.7 1498.4,382.1 1499.8,381.9 1500.1,378.5 1501.2,385.5 1502.6,396.1 1503.2,398.3 1504.0,393.7 1505.4,386.4 1505.9,381.6 1506.8,382.6 1508.2,391.1 1509.5,393.1 1509.6,392.0 1511.0,397.7 1512.4,403.2 1513.8,404.8 1514.7,409.8 1515.2,412.8 1516.6,419.3 1518.0,427.3 1518.9,430.7 1519.4,432.7 1520.8,437.2 1522.2,442.9 1523.0,447.4 1523.6,448.6 1525.0,454.6 1526.3,459.0 1526.4,459.0 1527.8,461.2 1529.2,463.5 1530.6,462.8 1532.0,464.0 1532.3,464.7 1533.4,466.5 1534.8,468.3 1536.2,467.3 1537.6,470.6 1538.2,472.0 1539.0,471.3 1540.4,470.3 1541.8,467.6 1543.2,465.5 1543.3,466.4 1544.6,474.8 1545.5,477.0 1546.0,475.7 1547.4,485.0 1548.8,487.9 1549.0,489.2 1550.2,496.2 1551.6,505.0 1551.9,506.8 1553.0,513.1 1554.4,519.9 1555.8,527.4 1555.8,528.3 1557.2,532.7 1558.6,537.5 1559.7,540.1 1560.0,540.2 1561.4,542.8 1562.8,541.8 1564.2,544.1 1564.6,544.0 1565.6,544.3 1567.0,544.7 1568.4,543.4 1569.5,544.0 1569.8,544.6 1571.2,545.3 1572.6,545.3 1574.0,547.5 1575.4,548.9 1575.4,548.1 1576.8,551.3 1578.2,554.3 1579.6,556.6 1581.0,560.0 1581.3,559.7 1582.4,562.4 1583.8,564.9 1585.2,568.1 1586.6,571.5 1587.1,572.4 1588.0,572.6 1589.4,573.8 1590.8,574.4 1592.2,575.3 1593.0,575.3 1593.6,575.3 1595.0,575.2 1596.4,574.6 1597.8,575.0 1599.2,574.8 1600.6,574.8 1600.8,574.7 1602.0,574.8 1603.4,574.4 1604.8,574.4 1606.2,574.2 1607.6,574.0 1608.7,574.3 1609.0,573.8 1610.4,574.8 1611.8,576.1 1613.2,575.9 1614.6,577.5 1616.0,578.3 1616.5,578.3 1617.4,579.0 1618.8,579.1 1620.2,579.6 1621.6,580.6 1623.0,581.0 1624.3,581.2 1624.4,581.8 1625.8,581.1 1627.2,581.1 1628.6,581.6 1630.0,581.1 1631.4,581.2 1632.8,581.6 1634.2,581.5 1635.6,581.1 1637.0,581.4 1638.4,581.2 1639.8,581.6 1640.0,581.2 1641.2,581.4 1642.6,581.0 1644.0,581.9 1645.4,581.4 1646.8,581.4 1648.2,581.3 1649.6,581.5 1651.0,581.4 1652.4,581.7 1653.8,581.8 1655.2,582.0 1656.6,581.9 1658.0,581.6 1659.4,581.5 1660.8,581.5 1662.2,582.1 1663.6,581.6 1665.0,582.4 1666.4,582.0 1667.8,582.0 1669.2,582.1 1670.0,582.0 1670.6,582.6 1672.0,582.2 1673.4,582.1 1674.8,581.9 1676.2,581.8 1677.6,582.2 1679.0,582.8 1680.4,582.7 1681.8,582.3 1683.2,581.9 1684.6,583.0 1686.1,582.8 1687.5,582.2 1688.9,582.8 1690.3,582.6 1691.7,583.3 1693.1,583.2 1694.5,582.9 1695.9,582.5 1697.3,583.1 1698.7,584.1 1700.0,583.3 1700.1,583.5 1701.5,583.2 1702.9,583.6 1704.3,583.2 1705.7,583.9 1707.1,582.9 1708.5,583.3 1709.9,583.9 1711.3,583.8 1712.7,583.6 1714.1,583.0 1715.5,583.5 1716.9,583.7 1718.3,583.3 1719.7,583.5 1721.1,583.8 1722.5,583.4 1723.9,583.7 1725.3,583.5 1726.7,583.2 1728.1,583.1 1729.5,583.3 1730.9,583.3 1732.3,583.9 1733.7,583.6 1735.1,583.0 1736.5,584.1 1737.9,584.4 1739.3,583.5 1740.7,583.8 1742.1,583.6 1743.5,583.9 1744.9,583.7 1746.3,583.8 1747.7,583.7 1749.1,583.5 1750.5,583.6 1751.9,583.5 1753.3,583.6 1754.7,583.6 1756.1,584.6 1757.5,584.0 1758.9,584.4 1760.0,583.8 1760.3,583.4 1761.7,583.7 1763.1,584.1 1764.5,584.2 1765.9,584.0 1767.3,583.7 1768.7,583.4 1770.1,583.9 1771.5,583.3 1772.9,583.9 1774.3,583.7 1775.7,583.7 1777.1,583.6 1778.5,583.4 1779.9,583.5 1781.3,584.0 1782.7,583.7 1784.1,583.6 1785.5,584.2 1786.9,584.1 1788.3,584.0 1789.7,583.4 1791.1,584.2 1792.5,584.1 1793.9,583.6 1795.3,583.7 1796.7,584.2 1798.1,584.3 1799.5,583.8 1800.9,583.6 1802.3,584.3 1803.7,583.8 1805.1,584.2 1806.5,584.0 1807.9,583.9 1809.3,583.9 1810.7,584.4 1812.1,583.9 1813.5,584.0 1813.5,584.0 L1813.5,584.4 L1046.0,584.4 Z" fill="#00ffff" fill-opacity="0.5" stroke="none"/>
<path d="M1046.0,583.8 1046.0,584.1 1047.4,584.1 1048.8,584.4 1050.2,584.5 1051.6,584.3 1053.0,583.9 1054.4,584.0 1055.8,583.8 1057.2,583.4 1058.6,583.6 1060.0,584.0 1061.4,583.8 1062.8,583.6 1064.2,583.3 1065.6,583.6 1067.0,583.4 1068.4,583.6 1069.8,583.7 1071.2,582.8 1072.6,583.4 1074.0,583.0 1075.4,583.1 1076.8,583.0 1078.2,583.6 1079.6,583.5 1081.0,583.4 1082.4,583.0 1083.8,582.7 1085.2,583.0 1086.6,583.2 1088.0,583.0 1089.4,583.2 1090.8,582.9 1092.2,583.5 1093.6,583.1 1095.0,583.5 1096.4,582.9 1097.8,582.7 1099.2,582.5 1100.6,583.0 1102.0,583.0 1103.4,582.7 1104.8,582.8 1106.2,582.5 1107.6,582.4 1109.0,582.4 1110.4,581.9 1111.8,582.2 1113.2,582.4 1114.6,582.4 1116.0,582.7 1117.4,582.5 1118.8,582.4 1120.2,582.3 1121.6,581.5 1123.0,582.2 1124.4,581.9 1125.8,582.3 1127.2,582.0 1128.6,581.9 1130.0,581.8 1131.4,581.9 1132.8,581.3 1134.2,581.4 1135.6,582.3 1137.0,582.0 1138.4,581.7 1139.8,581.7 1141.2,581.6 1142.6,582.7 1144.0,581.8 1145.4,581.6 1146.8,581.4 1148.2,580.8 1149.6,581.6 1151.0,581.9 1152.4,581.8 1153.8,581.5 1155.0,581.4 1155.2,581.2 1156.6,580.9 1158.0,581.2 1159.4,581.0 1160.8,580.7 1162.2,581.5 1163.6,580.6 1165.0,580.6 1166.4,580.0 1167.8,581.2 1169.2,580.5 1170.6,580.5 1172.0,580.5 1173.4,580.0 1174.9,580.0 1176.3,580.2 1177.7,579.8 1179.1,580.1 1180.5,580.3 1181.9,580.1 1183.3,580.2 1184.7,580.0 1186.1,580.2 1187.5,579.6 1188.9,579.6 1190.3,579.0 1191.7,579.2 1193.1,578.9 1194.5,579.1 1195.9,578.7 1197.3,579.0 1198.7,579.7 1200.1,578.5 1201.5,578.9 1202.9,578.8 1204.3,578.3 1205.7,578.3 1207.1,578.2 1208.5,578.4 1209.9,578.0 1211.3,579.0 1212.7,578.3 1214.1,578.3 1215.5,578.6 1216.9,578.2 1218.3,577.7 1219.7,577.7 1220.0,577.6 1221.1,577.6 1222.5,577.7 1223.9,577.9 1225.3,576.8 1226.7,576.9 1228.1,577.4 1229.5,577.6 1230.9,577.3 1232.3,577.4 1233.7,577.8 1235.1,577.6 1236.5,577.3 1237.9,577.2 1239.3,576.8 1240.7,577.5 1242.1,577.3 1243.5,576.9 1244.9,577.4 1246.3,577.1 1247.7,577.1 1249.1,576.6 1250.5,577.5 1251.9,576.9 1253.3,577.2 1254.7,577.2 1256.1,576.9 1257.5,577.0 1258.9,577.0 1260.3,576.9 1261.7,577.1 1263.1,576.8 1263.9,577.0 1264.5,577.2 1265.9,577.0 1267.3,576.5 1268.7,577.0 1270.1,576.7 1271.5,577.0 1272.9,576.0 1274.3,576.9 1275.7,576.0 1277.1,576.6 1278.5,577.9 1279.9,577.0 1281.3,577.1 1282.7,576.4 1284.1,576.3 1285.5,576.6 1286.9,576.8 1288.3,576.6 1289.7,576.3 1291.1,576.2 1292.5,576.4 1293.9,577.1 1295.3,576.5 1296.7,576.3 1296.8,576.5 1298.1,575.9 1299.5,575.2 1300.9,574.5 1301.0,575.0 1302.3,573.9 1303.7,573.0 1305.1,571.5 1306.1,570.4 1306.5,570.2 1307.9,572.7 1309.3,573.5 1310.7,575.4 1311.0,575.0 1312.1,575.2 1313.5,575.0 1314.9,575.9 1315.4,575.9 1316.3,575.9 1317.7,575.8 1319.1,576.1 1320.5,576.4 1321.9,576.4 1323.3,577.1 1324.7,577.1 1326.1,577.0 1327.5,577.2 1328.9,577.8 1329.6,577.6 1330.3,577.7 1331.7,577.0 1333.1,577.4 1334.5,577.8 1335.9,577.2 1337.3,576.7 1338.7,577.4 1340.1,577.6 1341.5,576.7 1342.9,575.7 1344.3,575.9 1345.7,577.0 1347.1,576.1 1348.5,576.3 1349.9,576.2 1351.3,575.9 1352.7,576.4 1354.1,575.7 1355.5,575.8 1356.9,575.6 1357.1,575.4 1358.3,575.4 1359.7,576.2 1361.1,574.8 1362.5,574.7 1363.9,575.4 1365.3,574.5 1366.7,574.9 1368.1,574.4 1369.5,575.0 1370.9,574.6 1372.3,574.8 1373.7,574.2 1375.1,574.3 1375.7,574.3 1376.5,573.3 1377.9,574.2 1379.3,573.8 1380.7,573.3 1382.1,573.1 1383.5,572.7 1384.9,572.5 1385.5,572.4 1386.3,572.7 1387.7,571.0 1389.0,570.5 1389.1,570.2 1390.5,569.0 1391.9,567.2 1393.3,565.5 1393.3,565.2 1394.7,564.8 1396.1,563.5 1397.5,561.2 1398.9,560.8 1399.2,559.7 1400.3,558.7 1401.7,559.6 1403.1,557.6 1404.5,558.0 1405.9,557.3 1406.0,557.3 1407.3,558.0 1408.7,559.3 1410.1,559.5 1411.5,560.4 1412.9,561.6 1412.9,561.1 1414.3,563.4 1415.7,563.5 1417.1,565.0 1418.5,565.8 1419.9,567.4 1420.7,567.5 1421.3,567.2 1422.7,567.5 1424.1,567.8 1425.5,568.4 1426.6,568.5 1426.9,567.9 1428.3,566.9 1429.8,565.6 1431.2,564.4 1432.6,562.7 1433.4,561.6 1434.0,561.0 1435.4,557.0 1436.8,553.7 1438.2,550.5 1439.6,547.3 1440.3,545.9 1441.0,544.2 1442.4,543.1 1443.8,540.8 1445.2,537.4 1446.2,537.1 1446.6,536.9 1448.0,535.8 1449.4,535.0 1450.1,535.2 1450.8,535.5 1452.2,537.4 1453.6,537.6 1455.0,537.3 1455.9,539.1 1456.4,540.1 1457.8,541.6 1459.2,545.2 1460.6,546.3 1460.8,546.9 1462.0,547.0 1463.4,547.1 1464.8,546.9 1466.2,547.2 1466.7,547.5 1467.6,546.1 1469.0,545.3 1470.4,542.1 1471.6,540.1 1471.8,539.8 1473.2,533.9 1474.6,528.3 1475.5,524.4 1476.0,522.2 1477.4,515.7 1478.5,508.7 1478.8,504.2 1480.2,495.2 1481.0,489.2 1481.6,484.8 1483.0,477.6 1483.4,474.0 1484.4,467.4 1485.4,462.0 1485.8,460.2 1487.2,449.5 1488.6,436.5 1488.6,436.9 1490.0,427.6 1491.4,415.8 1491.7,414.0 1492.8,408.8 1494.2,399.8 1494.8,395.2 1495.6,394.6 1497.0,389.4 1498.0,384.7 1498.4,382.1 1499.8,381.9 1500.1,378.5 1501.2,385.5 1502.6,396.1 1503.2,398.3 1504.0,393.7 1505.4,386.4 1505.9,381.6 1506.8,382.6 1508.2,391.1 1509.5,393.1 1509.6,392.0 1511.0,397.7 1512.4,403.2 1513.8,404.8 1514.7,409.8 1515.2,412.8 1516.6,419.3 1518.0,427.3 1518.9,430.7 1519.4,432.7 1520.8,437.2 1522.2,442.9 1523.0,447.4 1523.6,448.6 1525.0,454.6 1526.3,459.0 1526.4,459.0 1527.8,461.2 1529.2,463.5 1530.6,462.8 1532.0,464.0 1532.3,464.7 1533.4,466.5 1534.8,468.3 1536.2,467.3 1537.6,470.6 1538.2,472.0 1539.0,471.3 1540.4,470.3 1541.8,467.6 1543.2,465.5 1543.3,466.4 1544.6,474.8 1545.5,477.0 1546.0,475.7 1547.4,485.0 1548.8,487.9 1549.0,489.2 1550.2,496.2 1551.6,505.0 1551.9,506.8 1553.0,513.1 1554.4,519.9 1555.8,527.4 1555.8,528.3 1557.2,532.7 1558.6,537.5 1559.7,540.1 1560.0,540.2 1561.4,542.8 1562.8,541.8 1564.2,544.1 1564.6,544.0 1565.6,544.3 1567.0,544.7 1568.4,543.4 1569.5,544.0 1569.8,544.6 1571.2,545.3 1572.6,545.3 1574.0,547.5 1575.4,548.9 1575.4,548.1 1576.8,551.3 1578.2,554.3 1579.6,556.6 1581.0,560.0 1581.3,559.7 1582.4,562.4 1583.8,564.9 1585.2,568.1 1586.6,571.5 1587.1,572.4 1588.0,572.6 1589.4,573.8 1590.8,574.4 1592.2,575.3 1593.0,575.3 1593.6,575.3 1595.0,575.2 1596.4,574.6 1597.8,575.0 1599.2,574.8 1600.6,574.8 1600.8,574.7 1602.0,574.8 1603.4,574.4 1604.8,574.4 1606.2,574.2 1607.6,574.0 1608.7,574.3 1609.0,573.8 1610.4,574.8 1611.8,576.1 1613.2,575.9 1614.6,577.5 1616.0,578.3 1616.5,578.3 1617.4,579.0 1618.8,579.1 1620.2,579.6 1621.6,580.6 1623.0,581.0 1624.3,581.2 1624.4,581.8 1625.8,581.1 1627.2,581.1 1628.6,581.6 1630.0,581.1 1631.4,581.2 1632.8,581.6 1634.2,581.5 1635.6,581.1 1637.0,581.4 1638.4,581.2 1639.8,581.6 1640.0,581.2 1641.2,581.4 1642.6,581.0 1644.0,581.9 1645.4,581.4 1646.8,581.4 1648.2,581.3 1649.6,581.5 1651.0,581.4 1652.4,581.7 1653.8,581.8 1655.2,582.0 1656.6,581.9 1658.0,581.6 1659.4,581.5 1660.8,581.5 1662.2,582.1 1663.6,581.6 1665.0,582.4 1666.4,582.0 1667.8,582.0 1669.2,582.1 1670.0,582.0 1670.6,582.6 1672.0,582.2 1673.4,582.1 1674.8,581.9 1676.2,581.8 1677.6,582.2 1679.0,582.8 1680.4,582.7 1681.8,582.3 1683.2,581.9 1684.6,583.0 1686.1,582.8 1687.5,582.2 1688.9,582.8 1690.3,582.6 1691.7,583.3 1693.1,583.2 1694.5,582.9 1695.9,582.5 1697.3,583.1 1698.7,584.1 1700.0,583.3 1700.1,583.5 1701.5,583.2 1702.9,583.6 1704.3,583.2 1705.7,583.9 1707.1,582.9 1708.5,583.3 1709.9,583.9 1711.3,583.8 1712.7,583.6 1714.1,583.0 1715.5,583.5 1716.9,583.7 1718.3,583.3 1719.7,583.5 1721.1,583.8 1722.5,583.4 1723.9,583.7 1725.3,583.5 1726.7,583.2 1728.1,583.1 1729.5,583.3 1730.9,583.3 1732.3,583.9 1733.7,583.6 1735.1,583.0 1736.5,584.1 1737.9,584.4 1739.3,583.5 1740.7,583.8 1742.1,583.6 1743.5,583.9 1744.9,583.7 1746.3,583.8 1747.7,583.7 1749.1,583.5 1750.5,583.6 1751.9,583.5 1753.3,583.6 1754.7,583.6 1756.1,584.6 1757.5,584.0 1758.9,584.4 1760.0,583.8 1760.3,583.4 1761.7,583.7 1763.1,584.1 1764.5,584.2 1765.9,584.0 1767.3,583.7 1768.7,583.4 1770.1,583.9 1771.5,583.3 1772.9,583.9 1774.3,583.7 1775.7,583.7 1777.1,583.6 1778.5,583.4 1779.9,583.5 1781.3,584.0 1782.7,583.7 1784.1,583.6 1785.5,584.2 1786.9,584.1 1788.3,584.0 1789.7,583.4 1791.1,584.2 1792.5,584.1 1793.9,583.6 1795.3,583.7 1796.7,584.2 1798.1,584.3 1799.5,583.8 1800.9,583.6 1802.3,584.3 1803.7,583.8 1805.1,584.2 1806.5,584.0 1807.9,583.9 1809.3,583.9 1810.7,584.4 1812.1,583.9 1813.5,584.0 1813.5,584.0" fill="none" stroke="#00ffff" stroke-width="4.9" stroke-linejoin="round" stroke-linecap="round"/>
<path d="M1671.95,140.60H1772.55" stroke="#0000ff" stroke-width="4.9" stroke-linecap="round"/>
<rect x="1671.95" y="166.25" width="100.60" height="16.60" fill="#00ffff" fill-opacity="0.5" stroke="none"/>
<rect x="1671.95" y="166.25" width="100.60" height="16.60" fill="none" stroke="#00ffff" stroke-width="4.9" stroke-linejoin="round"/>
<rect x="1046.00" y="103.60" width="767.40" height="480.80" fill="none" stroke="#000" stroke-width="1.6"/>
</g>
</svg>
</body>
</html>
